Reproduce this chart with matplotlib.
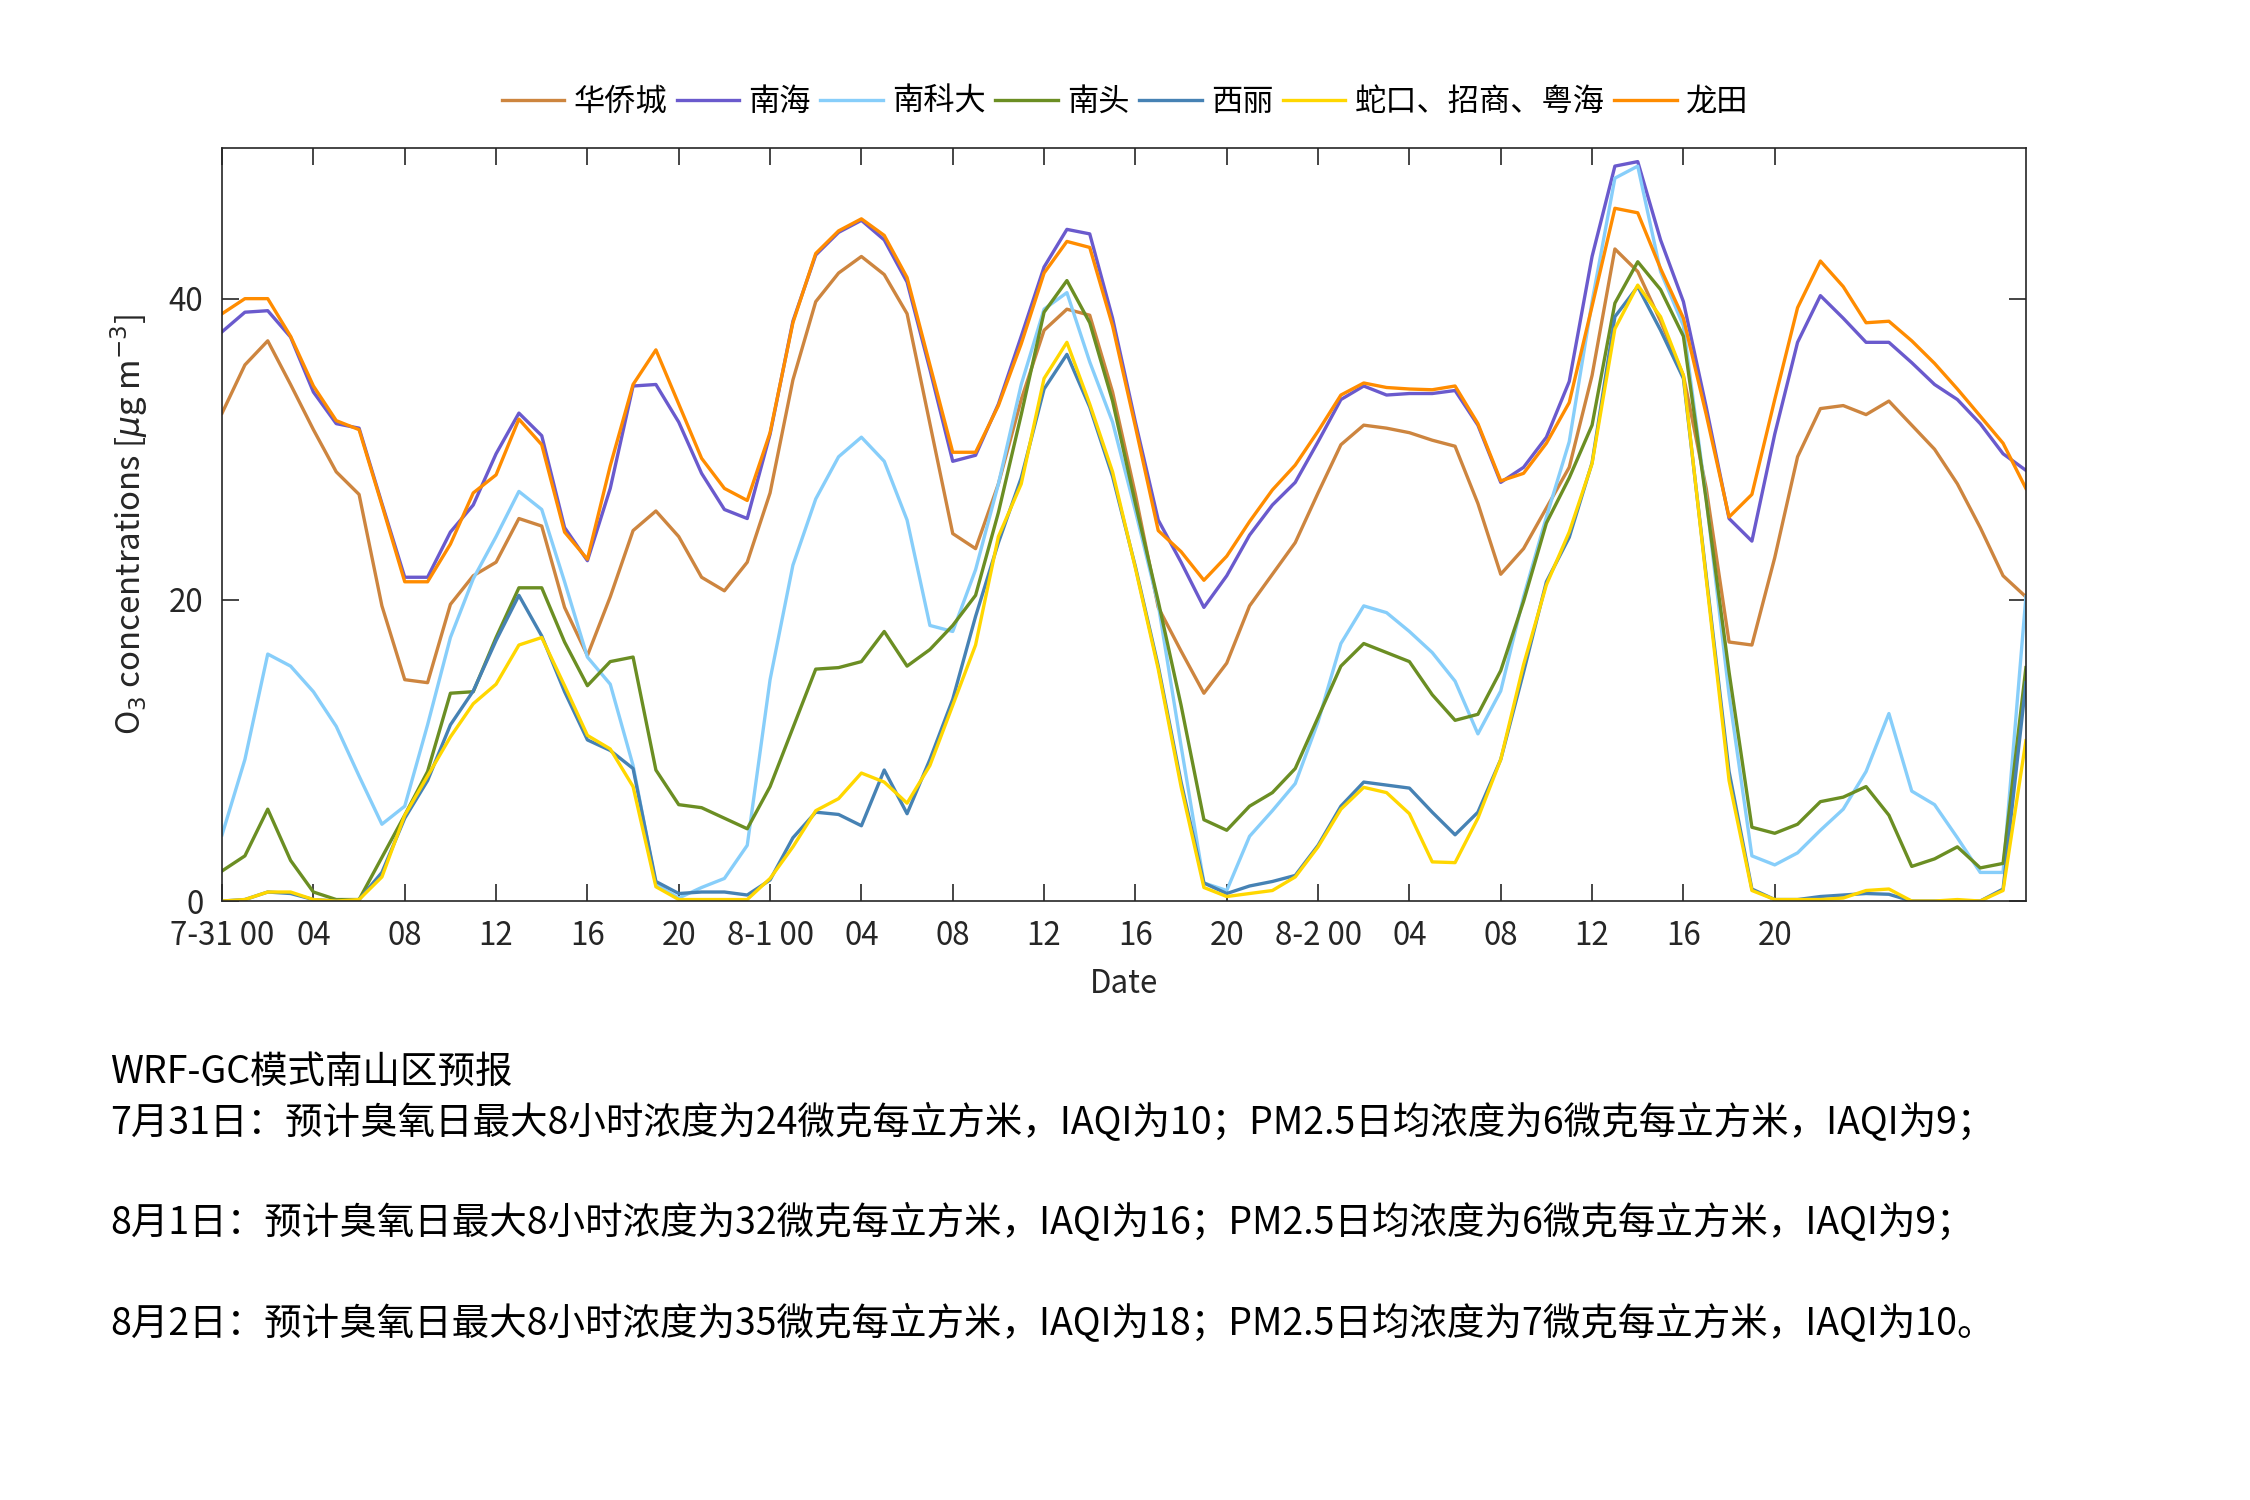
import numpy as np
import matplotlib
matplotlib.use('Agg')
import matplotlib.pyplot as plt

plt.rcParams['font.family'] = ['Noto Sans CJK SC', 'DejaVu Sans']
plt.rcParams['mathtext.fontset'] = 'dejavusans'
plt.rcParams['axes.unicode_minus'] = False

# hourly O3 forecast, 7-31 00:00 to 8-3 07:00
hours = np.arange(80)

huaqiaocheng = [32.4, 35.6, 37.2, 34.3, 31.3, 28.5, 27.0, 19.6, 14.7, 14.5, 19.7, 21.6, 22.5, 25.4, 24.9, 19.5,
                16.3, 20.2, 24.6, 25.9, 24.2, 21.5, 20.6, 22.5, 27.1, 34.6, 39.8, 41.7, 42.8, 41.6, 39.0, 31.7,
                24.4, 23.4, 27.7, 33.3, 37.9, 39.3, 38.9, 33.8, 27.0, 19.5, 16.6, 13.8, 15.8, 19.6, 21.7, 23.8,
                27.1, 30.3, 31.6, 31.4, 31.1, 30.6, 30.2, 26.4, 21.7, 23.4, 26.1, 28.8, 34.9, 43.3, 41.8, 38.5,
                34.9, 27.4, 17.2, 17.0, 22.8, 29.5, 32.7, 32.9, 32.3, 33.2, 31.6, 30.0, 27.7, 24.8, 21.6, 20.2]
nanhai = [37.8, 39.1, 39.2, 37.45, 33.8, 31.7, 31.4, 26.4, 21.5, 21.5, 24.5, 26.3, 29.7, 32.4, 30.9, 24.8,
          22.6, 27.4, 34.2, 34.3, 31.8, 28.4, 26.0, 25.4, 31.0, 38.5, 42.9, 44.4, 45.2, 43.9, 41.1, 35.3,
          29.2, 29.6, 33.0, 37.5, 42.1, 44.6, 44.3, 38.7, 31.8, 25.3, 22.5, 19.5, 21.6, 24.3, 26.3, 27.8,
          30.5, 33.3, 34.2, 33.6, 33.7, 33.7, 33.9, 31.6, 27.8, 28.8, 30.8, 34.5, 42.8, 48.8, 49.1, 43.9,
          39.8, 32.8, 25.4, 23.9, 31.0, 37.1, 40.2, 38.7, 37.1, 37.1, 35.75, 34.3, 33.3, 31.7, 29.7, 28.6]
nankeda = [4.4, 9.4, 16.4, 15.6, 13.9, 11.6, 8.3, 5.1, 6.3, 11.7, 17.5, 21.4, 24.2, 27.2, 26.0, 21.2,
           16.2, 14.4, 9.0, 1.1, 0.2, 0.9, 1.5, 3.7, 14.7, 22.3, 26.7, 29.5, 30.8, 29.2, 25.3, 18.3,
           17.9, 22.0, 27.7, 34.3, 39.3, 40.4, 35.8, 31.8, 25.9, 19.7, 10.3, 1.2, 0.7, 4.3, 6.0, 7.8,
           11.9, 17.1, 19.6, 19.15, 17.9, 16.5, 14.6, 11.1, 13.95, 20.2, 25.5, 30.5, 39.8, 48.0, 48.8, 41.8,
           38.2, 26.7, 13.7, 3.0, 2.4, 3.2, 4.7, 6.1, 8.6, 12.45, 7.3, 6.4, 4.2, 1.9, 1.9, 20.2]
nantou = [2.0, 3.0, 6.1, 2.7, 0.6, 0.1, 0.1, 2.9, 5.7, 8.6, 13.8, 13.9, 17.5, 20.8, 20.8, 17.2,
          14.3, 15.9, 16.2, 8.7, 6.4, 6.2, 5.5, 4.8, 7.6, 11.5, 15.4, 15.5, 15.9, 17.9, 15.6, 16.7,
          18.3, 20.3, 25.8, 32.3, 39.1, 41.2, 38.4, 33.2, 26.4, 19.9, 13.0, 5.4, 4.7, 6.3, 7.2, 8.8,
          12.2, 15.6, 17.1, 16.5, 15.9, 13.7, 12.0, 12.4, 15.3, 19.9, 25.1, 28.1, 31.6, 39.7, 42.45, 40.6,
          37.5, 26.6, 15.2, 4.9, 4.5, 5.1, 6.6, 6.9, 7.6, 5.7, 2.3, 2.8, 3.6, 2.2, 2.5, 15.5]
xili = [0.0, 0.1, 0.6, 0.5, 0.1, 0.0, 0.1, 1.9, 5.5, 8.0, 11.7, 13.95, 17.3, 20.3, 17.6, 13.9,
        10.7, 10.0, 8.8, 1.3, 0.5, 0.6, 0.6, 0.4, 1.4, 4.2, 5.9, 5.75, 5.0, 8.7, 5.8, 9.4,
        13.4, 18.9, 23.8, 28.1, 34.0, 36.3, 32.8, 28.2, 22.2, 15.6, 7.9, 1.2, 0.5, 1.0, 1.3, 1.7,
        3.7, 6.3, 7.9, 7.7, 7.5, 5.9, 4.4, 5.9, 9.4, 15.2, 21.2, 24.15, 29.1, 38.8, 40.8, 37.9,
        34.7, 21.6, 8.6, 0.8, 0.1, 0.1, 0.3, 0.4, 0.5, 0.45, 0.0, 0.0, 0.0, 0.0, 0.8, 14.5]
shekou = [0.0, 0.1, 0.6, 0.6, 0.1, 0.0, 0.1, 1.6, 5.7, 8.3, 10.9, 13.1, 14.4, 17.0, 17.5, 14.3,
          11.0, 10.1, 7.6, 0.95, 0.1, 0.1, 0.1, 0.1, 1.5, 3.6, 6.0, 6.8, 8.5, 7.9, 6.5, 9.0,
          13.0, 17.0, 24.2, 27.7, 34.7, 37.1, 33.0, 28.5, 22.1, 15.4, 7.6, 0.9, 0.3, 0.5, 0.7, 1.6,
          3.6, 6.1, 7.55, 7.2, 5.8, 2.6, 2.55, 5.5, 9.4, 15.7, 21.0, 24.5, 29.05, 38.0, 40.9, 38.8,
          34.9, 21.4, 8.0, 0.7, 0.1, 0.1, 0.1, 0.2, 0.7, 0.8, 0.0, 0.0, 0.1, 0.0, 0.7, 10.65]
longtian = [39.0, 40.0, 40.0, 37.5, 34.2, 31.9, 31.3, 26.3, 21.2, 21.2, 23.7, 27.1, 28.3, 32.0, 30.3, 24.5,
            22.7, 28.9, 34.3, 36.6, 33.0, 29.4, 27.4, 26.6, 31.1, 38.4, 43.0, 44.5, 45.3, 44.2, 41.4, 35.6,
            29.8, 29.8, 32.9, 37.0, 41.7, 43.8, 43.4, 38.2, 31.5, 24.6, 23.2, 21.3, 22.9, 25.2, 27.3, 28.95,
            31.2, 33.6, 34.4, 34.1, 34.0, 33.95, 34.2, 31.7, 27.9, 28.4, 30.4, 33.1, 39.5, 46.0, 45.7, 42.0,
            38.7, 32.3, 25.5, 27.0, 33.3, 39.4, 42.5, 40.8, 38.4, 38.5, 37.2, 35.7, 34.0, 32.2, 30.4, 27.4]

site_names = ['华侨城', '南海', '南科大', '南头', '西丽', '蛇口、招商、粤海', '龙田']
site_values = [huaqiaocheng, nanhai, nankeda, nantou, xili, shekou, longtian]
site_colors = ['#CD853F', '#6A5ACD', '#87CEFA', '#6B8E23', '#4682B4', '#FFD700', '#FF8C00']

tick_hours = list(range(0, 69, 4))
tick_labels = ['7-31 00', '04', '08', '12', '16', '20',
               '8-1 00', '04', '08', '12', '16', '20',
               '8-2 00', '04', '08', '12', '16', '20']

notes = ['WRF-GC模式南山区预报',
         '7月31日：预计臭氧日最大8小时浓度为24微克每立方米，IAQI为10；PM2.5日均浓度为6微克每立方米，IAQI为9；',
         '8月1日：预计臭氧日最大8小时浓度为32微克每立方米，IAQI为16；PM2.5日均浓度为6微克每立方米，IAQI为9；',
         '8月2日：预计臭氧日最大8小时浓度为35微克每立方米，IAQI为18；PM2.5日均浓度为7微克每立方米，IAQI为10。']
note_y = [0.2853, 0.2507, 0.184, 0.1167]

fig = plt.figure(figsize=(15, 10), dpi=150)
ax = fig.add_axes([0.0987, 0.3993, 0.8017, 0.502])

for name, vals, col in zip(site_names, site_values, site_colors):
    ax.plot(hours, vals, color=col, lw=1.6, label=name)

ax.set_xlim(0, 79)
ax.set_ylim(0, 50)
ax.set_xticks(tick_hours)
ax.set_xticklabels(tick_labels)
ax.set_yticks([0, 20, 40])
ax.tick_params(direction='in', length=8, width=0.8, top=True, right=True,
               labelsize=15, colors='#262626', pad=9)
for sp in ax.spines.values():
    sp.set_linewidth(0.8)
    sp.set_color('#262626')

ax.set_xlabel('Date', fontsize=15, color='#262626', labelpad=8)
ax.set_ylabel(r'O$_3$ concentrations [$\mu$g m$^{-3}$]', fontsize=15.8, color='#262626', labelpad=9)

fig.legend(loc='center', bbox_to_anchor=(0.5, 0.932), ncol=7, frameon=False,
           fontsize=15, handlelength=2.0, handletextpad=0.3, columnspacing=0.3)

for txt, y in zip(notes, note_y):
    fig.text(0.049, y, txt, fontsize=18, va='center', ha='left', color='black')

fig.savefig('out.png', dpi=150)
